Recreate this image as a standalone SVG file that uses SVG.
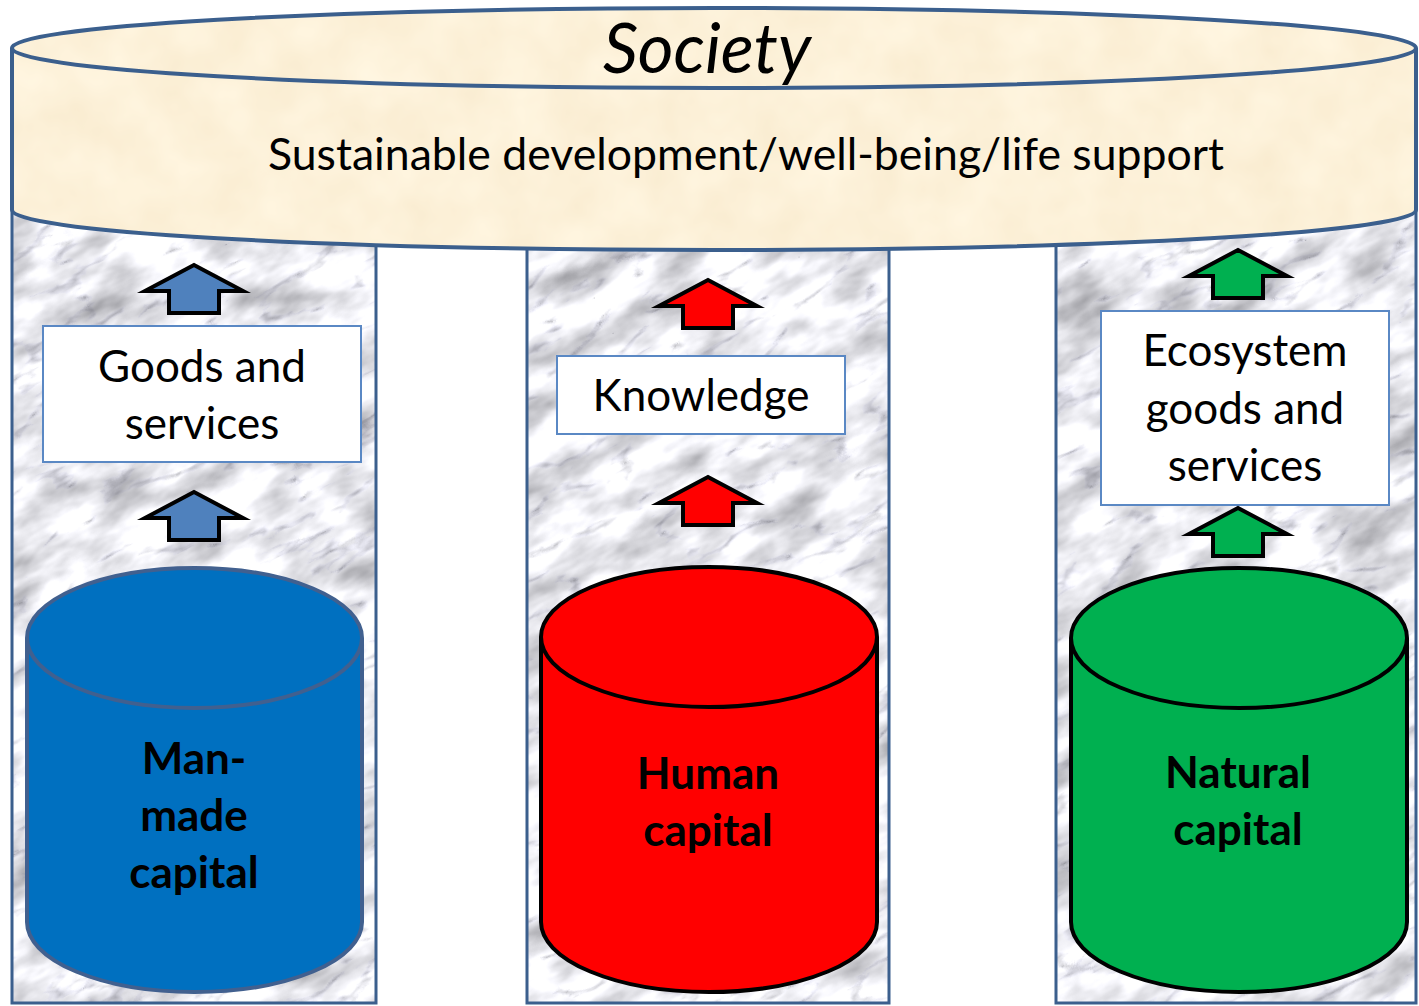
<svg xmlns="http://www.w3.org/2000/svg" xmlns:xlink="http://www.w3.org/1999/xlink" width="1419" height="1006" viewBox="0 0 1419 1006">
  <defs>
    <style>
      .pillar-edge { fill: none; stroke: #3B5F8D; stroke-width: 3; }
      .label { font-family: Lato, "Open Sans", "Liberation Sans", sans-serif; font-size: 44px; fill: #000; text-anchor: middle; }
      .bold { font-weight: bold; }
      .box { fill: #FFFFFF; stroke: #5A88C4; stroke-width: 2; }
      .arrow { stroke: #000; stroke-width: 4; stroke-linejoin: miter; stroke-miterlimit: 10; }
      .blue-arrow { fill: #4F81BD; }
      .red-arrow { fill: #FF0000; }
      .green-arrow { fill: #00B050; }
      .cyl-edge { fill: none; stroke-width: 4; }
      .drum-edge { fill: none; stroke: #3B5F8D; stroke-width: 4; }
    </style>

    <!-- soft grey marble: mottled base multiplied by faint veins -->
    <filter id="marble" x="0" y="0" width="1" height="1" color-interpolation-filters="sRGB">
      <feTurbulence type="fractalNoise" baseFrequency="0.014 0.03" numOctaves="4" seed="5" result="soft"/>
      <feColorMatrix in="soft" type="matrix"
        values="0.7 0 0 0 0.58
                0.7 0 0 0 0.58
                0.7 0 0 0 0.60
                0 0 0 0 1" result="base"/>
      <feTurbulence type="turbulence" baseFrequency="0.01 0.025" numOctaves="4" seed="11" result="vein"/>
      <feColorMatrix in="vein" type="matrix"
        values="1.3 0 0 0 0.78
                1.3 0 0 0 0.78
                1.3 0 0 0 0.80
                0 0 0 0 1" result="lines"/>
      <feBlend in="base" in2="lines" mode="multiply" result="stone"/>
      <feComposite in="stone" in2="SourceGraphic" operator="in"/>
    </filter>

    <!-- warm parchment texture for the society drum -->
    <filter id="parchment" x="0" y="0" width="1" height="1" color-interpolation-filters="sRGB">
      <feTurbulence type="fractalNoise" baseFrequency="0.02" numOctaves="3" seed="2" result="noise"/>
      <feColorMatrix in="noise" type="matrix"
        values="0.03 0 0 0 0.975
                0.05 0 0 0 0.92
                0.08 0 0 0 0.81
                0 0 0 0 1" result="paper"/>
      <feComposite in="paper" in2="SourceGraphic" operator="in"/>
    </filter>

    <clipPath id="pillar-clip">
      <rect x="12" y="180" width="364" height="823"/>
      <rect x="527" y="180" width="362" height="823"/>
      <rect x="1056" y="180" width="360" height="823"/>
    </clipPath>

    <!-- block arrow pointing up, origin at its tip -->
    <path id="up-arrow" d="M0,0 L49,26 L25,26 L25,48 L-25,48 L-25,26 L-49,26 Z"/>
  </defs>

  <rect width="1419" height="1006" fill="#FFFFFF"/>

  <!-- marble texture shared by the three pillars -->
  <g clip-path="url(#pillar-clip)">
    <rect x="-300" y="-400" width="2000" height="1800" fill="#DDD" filter="url(#marble)" transform="rotate(-28 709 600)"/>
  </g>

  <g id="pillar-manmade">
    <rect x="12" y="180" width="364" height="823" class="pillar-edge"/>
  </g>
  <g id="pillar-human">
    <rect x="527" y="180" width="362" height="823" class="pillar-edge"/>
  </g>
  <g id="pillar-natural">
    <rect x="1056" y="180" width="360" height="823" class="pillar-edge"/>
  </g>

  <!-- society drum resting on the pillars -->
  <g id="society">
    <path d="M12,48 A702,40 0 0 1 1416,48 L1416,210 A702,40 0 0 1 12,210 Z" fill="#FCEFD6" filter="url(#parchment)"/>
    <path d="M12,48 A702,40 0 0 1 1416,48 L1416,210 A702,40 0 0 1 12,210 Z" class="drum-edge"/>
    <path d="M12,48 A702,40 0 0 0 1416,48" class="drum-edge"/>
    <text x="707" y="73" class="label" style="font-size:69px;font-style:italic">Society</text>
    <text x="746" y="170" class="label" textLength="956" lengthAdjust="spacingAndGlyphs">Sustainable development/well-being/life support</text>
  </g>

  <!-- output boxes -->
  <g id="goods-services">
    <rect x="43" y="326" width="318" height="136" class="box"/>
    <text x="202" y="382" class="label">Goods and</text>
    <text x="202" y="439" class="label">services</text>
  </g>
  <g id="knowledge">
    <rect x="557" y="356" width="288" height="78" class="box"/>
    <text x="701" y="411" class="label">Knowledge</text>
  </g>
  <g id="ecosystem-services">
    <rect x="1101" y="311" width="288" height="194" class="box"/>
    <text x="1245" y="366" class="label">Ecosystem</text>
    <text x="1245" y="424" class="label">goods and</text>
    <text x="1245" y="481" class="label">services</text>
  </g>

  <!-- capital stocks -->
  <g id="manmade-capital">
    <path d="M27,638 L27,922 A167.5,70 0 0 0 362,922 L362,638 Z" fill="#0070C0"/>
    <ellipse cx="194.5" cy="638" rx="167.5" ry="70" fill="#0070C0"/>
    <path d="M27,638 L27,922 A167.5,70 0 0 0 362,922 L362,638" class="cyl-edge" stroke="#41608F"/>
    <ellipse cx="194.5" cy="638" rx="167.5" ry="70" class="cyl-edge" stroke="#41608F"/>
    <text x="194" y="774" class="label bold">Man-</text>
    <text x="194" y="831" class="label bold">made</text>
    <text x="194" y="888" class="label bold">capital</text>
  </g>
  <g id="human-capital">
    <path d="M541,637 L541,922 A168,70 0 0 0 877,922 L877,637 Z" fill="#FF0000"/>
    <ellipse cx="709" cy="637" rx="168" ry="70" fill="#FF0000"/>
    <path d="M541,637 L541,922 A168,70 0 0 0 877,922 L877,637" class="cyl-edge" stroke="#000"/>
    <ellipse cx="709" cy="637" rx="168" ry="70" class="cyl-edge" stroke="#000"/>
    <text x="708" y="789" class="label bold">Human</text>
    <text x="708" y="846" class="label bold">capital</text>
  </g>
  <g id="natural-capital">
    <path d="M1071,638 L1071,922 A168,70 0 0 0 1407,922 L1407,638 Z" fill="#00B050"/>
    <ellipse cx="1239" cy="638" rx="168" ry="70" fill="#00B050"/>
    <path d="M1071,638 L1071,922 A168,70 0 0 0 1407,922 L1407,638" class="cyl-edge" stroke="#000"/>
    <ellipse cx="1239" cy="638" rx="168" ry="70" class="cyl-edge" stroke="#000"/>
    <text x="1238" y="788" class="label bold">Natural</text>
    <text x="1238" y="845" class="label bold">capital</text>
  </g>

  <!-- flow arrows -->
  <g id="connectors">
    <use xlink:href="#up-arrow" x="194" y="265" class="arrow blue-arrow"/>
    <use xlink:href="#up-arrow" x="194" y="492" class="arrow blue-arrow"/>
    <use xlink:href="#up-arrow" x="708" y="280" class="arrow red-arrow"/>
    <use xlink:href="#up-arrow" x="708" y="477" class="arrow red-arrow"/>
    <use xlink:href="#up-arrow" x="1238" y="250" class="arrow green-arrow"/>
    <use xlink:href="#up-arrow" x="1238" y="508" class="arrow green-arrow"/>
  </g>
</svg>
